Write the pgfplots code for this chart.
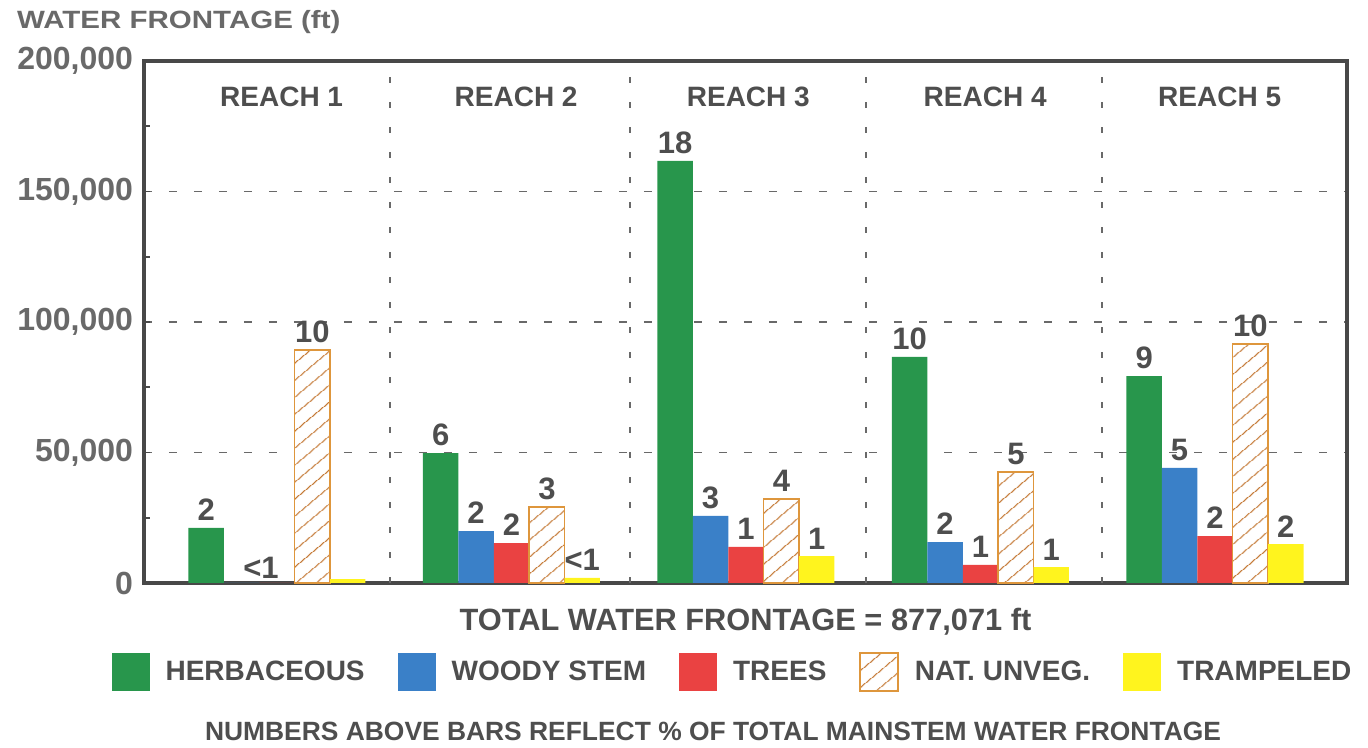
\documentclass[border=0pt]{standalone}
\usepackage{graphicx}
\usepackage{fontspec}
\setmainfont{Liberation Sans}
\usepackage{pgfplots}
\pgfplotsset{compat=1.18}
\usepackage{pgfplotstable}
\usetikzlibrary{patterns.meta}

\definecolor{herb}{RGB}{40,150,76}
\definecolor{woody}{RGB}{58,128,200}
\definecolor{trees}{RGB}{234,66,66}
\definecolor{tramp}{RGB}{255,244,30}
\definecolor{hatch}{RGB}{196,120,52}
\definecolor{hatchedge}{RGB}{222,150,60}
\definecolor{txt}{RGB}{78,78,78}
\definecolor{ticktxt}{RGB}{105,105,105}
\definecolor{framec}{RGB}{72,72,72}
\definecolor{gridc}{RGB}{105,105,105}

\pgfplotstableread{
x herb hl woody wl trees tl nat nl tramp trl
0 21100  2  0     {} 0     {} 89300 10 1500  {}
1 49800  6  19900 2  15300 2  29100 3  2000  {<1}
2 161700 18 25700 3  13800 1  32200 4  10300 1
3 86600  10 15700 2  6900  1  42500 5  6100  1
4 79300  9  44100 5  18000 2  91600 10 14900 2
}\data

\pgfplotsset{
  sqleg/.style={legend image code/.code={\path[##1] (0pt,-9.5pt) rectangle (19pt,9.5pt);}},
}

\begin{document}
\begin{tikzpicture}
\begin{axis}[
  scale only axis, width=601.5pt, height=261pt,
  xmin=-0.567, xmax=4.563, ymin=0, ymax=200000,
  clip=false,
  ybar=0pt, bar width=0.151,
  axis line style={framec, line width=2pt},
  xtick=\empty,
  extra x ticks={0.482,1.505,2.512,3.518},
  extra x tick labels={},
  extra x tick style={grid=major, major tick length=0pt,
     major grid style={gridc, line width=0.8pt, dash pattern=on 3pt off 9.5pt}},
  ytick={0,50000,100000,150000,200000},
  yticklabels={0,{50,000},{100,000},{150,000},{200,000}},
  minor ytick={25000,75000,125000,175000},
  ytick pos=left, tick align=inside,
  major tick length=3pt, minor tick length=3pt,
  tick style={framec, line width=0.8pt},
  ymajorgrids,
  major grid style={gridc, line width=0.8pt, dash pattern=on 4pt off 8.5pt},
  scaled y ticks=false,
  y tick label style={font=\fontsize{16}{16}\selectfont\bfseries, text=ticktxt, xshift=-2pt},
  nodes near coords style={font=\fontsize{15.5}{16}\selectfont\bfseries, text=txt},
  legend columns=5,
  legend style={draw=none, fill=none, at={(0.49,-0.1705)}, anchor=center,
     font=\fontsize{14}{14}\selectfont\bfseries, text=txt,
     /tikz/every even column/.append style={column sep=14.5pt},
     /tikz/every odd column/.append style={column sep=6pt}},
  legend cell align=left,
]
\addplot[fill=herb, draw=none, sqleg, nodes near coords={\pgfplotspointmeta}, point meta=explicit symbolic]
  table[x=x, y=herb, meta=hl]{\data};
\addlegendentry{HERBACEOUS}
\addplot[fill=woody, draw=none, sqleg, nodes near coords={\pgfplotspointmeta}, point meta=explicit symbolic]
  table[x=x, y=woody, meta=wl]{\data};
\addlegendentry{WOODY STEM}
\addplot[fill=trees, draw=none, sqleg, nodes near coords={\pgfplotspointmeta}, point meta=explicit symbolic]
  table[x=x, y=trees, meta=tl]{\data};
\addlegendentry{TREES}
\addplot[draw=hatchedge, line width=0.7pt, fill=white,
  postaction={pattern={Lines[angle=40, distance=6.5pt, line width=0.6pt]}, pattern color=hatch},
  sqleg, nodes near coords={\pgfplotspointmeta}, point meta=explicit symbolic]
  table[x=x, y=nat, meta=nl]{\data};
\addlegendentry{NAT. UNVEG.}
\addplot[fill=tramp, draw=none, sqleg, nodes near coords={\pgfplotspointmeta}, point meta=explicit symbolic]
  table[x=x, y=tramp, meta=trl]{\data};
\addlegendentry{TRAMPELED}

\node[anchor=south, inner sep=0pt, yshift=2pt, font=\fontsize{15.5}{16}\selectfont\bfseries, text=txt]
  at (axis cs:-0.068,0) {<1};

\node[font=\fontsize{14}{15}\selectfont\bfseries, text=txt] at (axis cs:0.02,186200) {REACH 1};
\node[font=\fontsize{14}{15}\selectfont\bfseries, text=txt] at (axis cs:1.02,186200) {REACH 2};
\node[font=\fontsize{14}{15}\selectfont\bfseries, text=txt] at (axis cs:2.01,186200) {REACH 3};
\node[font=\fontsize{14}{15}\selectfont\bfseries, text=txt] at (axis cs:3.02,186200) {REACH 4};
\node[font=\fontsize{14}{15}\selectfont\bfseries, text=txt] at (axis cs:4.02,186200) {REACH 5};

\node[anchor=west, font=\fontsize{12.5}{13}\selectfont\bfseries, text=ticktxt]
  at (rel axis cs:0,1) [xshift=-67pt, yshift=19.5pt] {\scalebox{1.18}[1]{WATER FRONTAGE (ft)}};
\node[font=\fontsize{15.4}{16}\selectfont\bfseries, text=txt]
  at (rel axis cs:0.5,0) [yshift=-19.5pt] {TOTAL WATER FRONTAGE = 877,071 ft};
\node[font=\fontsize{13.2}{14}\selectfont\bfseries, text=txt]
  at (rel axis cs:0.473,0) [yshift=-74pt] {NUMBERS ABOVE BARS REFLECT \% OF TOTAL MAINSTEM WATER FRONTAGE};

\path (rel axis cs:0,0) ++(-72pt,-81.5pt) coordinate (bl);
\path (rel axis cs:1,1) ++(10.5pt,30.5pt) coordinate (tr);
\end{axis}
\path (bl) rectangle (tr);
\end{tikzpicture}
\end{document}
